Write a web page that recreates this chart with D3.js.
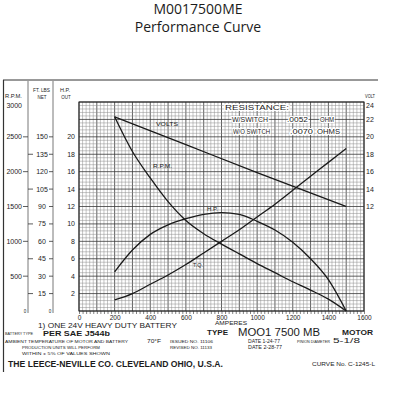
<!DOCTYPE html>
<html>
<head>
<meta charset="utf-8">
<script src="https://cdn.jsdelivr.net/npm/d3@7"></script>
<style>
  body { margin: 0; background: #fff; }
  svg { display: block; }
  text { fill: #1c1c1c; font-family: "Liberation Sans", Arial, sans-serif; }
</style>
</head>
<body>
<div id="chart"></div>
<script>
// values
const ampPoints = [200, 300, 400, 500, 600, 700, 800, 900, 1000, 1100, 1200, 1300, 1400, 1500]
const rpmValues = [2790, 2290, 1910, 1570, 1300, 1110, 960, 820, 680, 550, 420, 300, 170, 0]
const hpValues = [4.5, 7.0, 8.8, 9.9, 10.6, 11.1, 11.3, 11.1, 10.3, 9.3, 7.9, 6.0, 3.6, 0]
const torqueValues = [9.5, 15, 23, 31, 40, 50, 60, 70, 81, 92, 104, 116, 128, 140]
const voltAmps = [200, 600, 1000, 1500]
const voltValues = [22.3, 19.1, 15.9, 12.0]

const ampTicks = [0, 200, 400, 600, 800, 1000, 1200, 1400, 1600]
const rpmTicks = [500, 1000, 1500, 2000, 2500, 3000]
const torqueTicks = [15, 30, 45, 60, 75, 90, 105, 120, 135, 150]
const hpTicks = [2, 4, 6, 8, 10, 12, 14, 16, 18, 20]
const voltTicks = [12, 14, 16, 18, 20, 22, 24]

const W = 396, H = 400
const svg = d3.select("#chart").append("svg").attr("width", W).attr("height", H)
svg.append("rect").attr("width", W).attr("height", H).attr("fill", "#fff")

const x = d3.scaleLinear().domain([0, 1600]).range([79, 364])
const yHp = d3.scaleLinear().domain([0, 24]).range([311, 102])
const yRpm = d3.scaleLinear().domain([0, 3000]).range([311, 102])
const yTq = d3.scaleLinear().domain([0, 180]).range([311, 102])
const yVolt = yHp

function label(x0, y0, str, size, opts) {
    opts = opts || {}
    const t = svg.append("text")
        .attr("x", x0).attr("y", y0)
        .style("font-size", size + "px")
        .style("text-anchor", opts.anchor || "start")
        .style("font-weight", opts.bold ? "bold" : "normal")
        .text(str)
    if (opts.family) t.style("font-family", opts.family)
    if (opts.len) t.attr("textLength", opts.len).attr("lengthAdjust", "spacingAndGlyphs")
    return t
}

// title
label(198, 14, "M0017500ME", 14, {anchor: "middle", family: "'Open Sans', sans-serif"})
label(198, 32, "Performance Curve", 14, {anchor: "middle", family: "'Open Sans', sans-serif"})

// sheet frame and left columns
svg.append("line").attr("x1", 3).attr("x2", 378).attr("y1", 80).attr("y2", 80)
    .attr("stroke", "#333").attr("stroke-width", 1)
svg.append("line").attr("x1", 3.5).attr("x2", 3.5).attr("y1", 80).attr("y2", 372)
    .attr("stroke", "#333").attr("stroke-width", 1.2)
;[28, 53].forEach(function (cx) {
    svg.append("line").attr("x1", cx).attr("x2", cx).attr("y1", 81).attr("y2", 313)
        .attr("stroke", "#555").attr("stroke-width", 0.8)
})

// grid
const grid = svg.append("g")
grid.selectAll(".vgrid")
    .data(d3.range(0, 81))
    .enter().append("line")
    .attr("x1", d => x(d * 20)).attr("x2", d => x(d * 20))
    .attr("y1", 102).attr("y2", 311)
    .attr("stroke", d => d % 5 === 0 ? "#3a3a3a" : "#8c8c8c")
    .attr("stroke-width", d => d % 5 === 0 ? 0.8 : 0.5)
grid.selectAll(".hgrid")
    .data(d3.range(0, 61))
    .enter().append("line")
    .attr("x1", 79).attr("x2", 364)
    .attr("y1", d => yHp(d * 0.4)).attr("y2", d => yHp(d * 0.4))
    .attr("stroke", d => d % 5 === 0 ? "#3a3a3a" : "#8c8c8c")
    .attr("stroke-width", d => d % 5 === 0 ? 0.8 : 0.5)
svg.append("rect").attr("x", 79).attr("y", 102).attr("width", 285).attr("height", 209)
    .attr("fill", "none").attr("stroke", "#222").attr("stroke-width", 1)

// amps axis
const minorAxis = svg.append("g").attr("transform", "translate(0,311)")
    .call(d3.axisBottom(x).tickValues(d3.range(0, 81).map(i => i * 20)).tickSize(3).tickFormat(""))
minorAxis.select(".domain").remove()
minorAxis.selectAll("line").attr("stroke", "#333").attr("stroke-width", 0.6)
const ampAxis = svg.append("g").attr("transform", "translate(0,311)")
    .call(d3.axisBottom(x).tickValues(ampTicks).tickSize(0).tickPadding(4).tickFormat(d3.format("d")))
ampAxis.select(".domain").remove()
ampAxis.selectAll("text").style("font-size", "6.5px").style("font-family", "'Liberation Sans', sans-serif")
    .attr("fill", "#1c1c1c")
label(231, 325, "AMPERES", 6, {anchor: "middle", len: 32})

// left scales
label(5, 98, "R.P.M.", 5.5, {len: 17})
label(33, 92, "FT. LBS", 4.5, {len: 17})
label(42, 99, "NET", 4.5, {anchor: "middle"})
label(60, 92, "H.P.", 4.5, {len: 10})
label(66, 99, "OUT", 4.5, {anchor: "middle"})
label(365, 98, "VOLT", 4.5, {len: 10})

svg.selectAll(".rpmlab").data(rpmTicks).enter().append("text")
    .attr("x", 22).attr("y", d => Math.max(yRpm(d), 105) + 2.5)
    .style("font-size", "7px").style("text-anchor", "end")
    .text(d => d)
svg.selectAll(".rpmtick").data(rpmTicks.slice(0, 5)).enter().append("line")
    .attr("x1", 23).attr("x2", 28).attr("y1", d => yRpm(d)).attr("y2", d => yRpm(d))
    .attr("stroke", "#333").attr("stroke-width", 0.8)

svg.selectAll(".tqlab").data(torqueTicks).enter().append("text")
    .attr("x", 42).attr("y", d => yTq(d) + 2.5)
    .style("font-size", "7px").style("text-anchor", "middle")
    .text(d => d)
svg.selectAll(".tqtick").data(torqueTicks).enter().append("line")
    .attr("x1", 49).attr("x2", 53).attr("y1", d => yTq(d)).attr("y2", d => yTq(d))
    .attr("stroke", "#333").attr("stroke-width", 0.8)
svg.selectAll(".tqtick2").data(torqueTicks.filter((d, i) => i % 2 === 0)).enter().append("line")
    .attr("x1", 28).attr("x2", 33).attr("y1", d => yTq(d)).attr("y2", d => yTq(d))
    .attr("stroke", "#333").attr("stroke-width", 0.8)

svg.selectAll(".hplab").data(hpTicks).enter().append("text")
    .attr("x", 75).attr("y", d => yHp(d) + 2.5)
    .style("font-size", "7px").style("text-anchor", "end")
    .text(d => d)
label(25, 313, "0", 4.5, {anchor: "middle"})
label(50, 313, "0", 4.5, {anchor: "middle"})

svg.selectAll(".vlab").data(voltTicks).enter().append("text")
    .attr("x", 366).attr("y", d => Math.max(yVolt(d), 105) + 2.5)
    .style("font-size", "7px")
    .text(d => d)

// curves
const curveStyle = p => p.attr("fill", "none").attr("stroke", "#1a1a1a").attr("stroke-width", 1.3)
function drawCurve(xs, vals, yScale) {
    const line = d3.line()
        .x((d, i) => x(xs[i]))
        .y(d => yScale(d))
        .curve(d3.curveMonotoneX)
    svg.append("path").attr("d", line(vals)).call(curveStyle)
}
drawCurve(voltAmps, voltValues, yVolt)
drawCurve(ampPoints, rpmValues, yRpm)
drawCurve(ampPoints, hpValues, yHp)
drawCurve(ampPoints, torqueValues, yTq)

label(156, 126, "VOLTS", 5, {len: 22})
label(153, 168, "R.P.M.", 5, {len: 19})
label(207, 211, "H.P.", 5, {len: 11})
label(193, 267, "T.Q.", 5, {len: 10})

// resistance note
function halo(t) { return t.style("paint-order", "stroke").attr("stroke", "#fff").attr("stroke-width", 2.2) }
halo(label(225, 110, "RESISTANCE:", 6.5, {len: 64}))
halo(label(232, 122, "W/SWITCH", 6.5, {len: 36}))
halo(label(287, 122, ".0052", 6.5, {len: 21}))
halo(label(320, 122, "OHM", 6.5, {len: 14}))
halo(label(233, 134, "W/O SWITCH", 6.5, {len: 37}))
halo(label(290, 134, ".0070", 6.5, {len: 23}))
halo(label(317, 134, "OHMS", 6.5, {len: 23}))

// sheet footer
label(38, 328, "1) ONE 24V HEAVY DUTY BATTERY", 6.5, {len: 139})
label(5, 335, "BATTERY TYPE", 3.8, {len: 28})
label(43, 336, "PER SAE J544b", 7, {len: 67, bold: true})
label(5, 343, "AMBIENT TEMPERATURE OF MOTOR AND BATTERY", 3.8, {len: 123})
label(147, 343, "70°F", 5.5, {len: 14})
label(22, 349, "PRODUCTION UNITS WILL PERFORM", 3.8, {len: 78})
label(22, 355, "WITHIN ± 5% OF VALUES SHOWN", 3.8, {len: 88})
label(170, 343, "ISSUED NO. 11106", 3.8, {len: 43})
label(170, 349, "REVISED NO. 11133", 3.8, {len: 42})
label(207, 335, "TYPE", 8, {len: 21, bold: true})
label(238, 336, "MOO1 7500 MB", 10, {len: 82})
label(342, 335, "MOTOR", 8, {len: 31, bold: true})
label(248, 343, "DATE 1-24-77", 4.5, {len: 32})
label(297, 343, "PINION DIAMETER", 3.8, {len: 33})
label(333, 343, "5-1/8", 7, {len: 27})
label(248, 349, "DATE 2-28-77", 4.5, {len: 34})
label(8, 367, "THE LEECE-NEVILLE CO.  CLEVELAND OHIO, U.S.A.", 9.5, {len: 215, bold: true})
label(312, 366, "CURVE No. C-1245-L", 4.5, {len: 63})
</script>
</body>
</html>
